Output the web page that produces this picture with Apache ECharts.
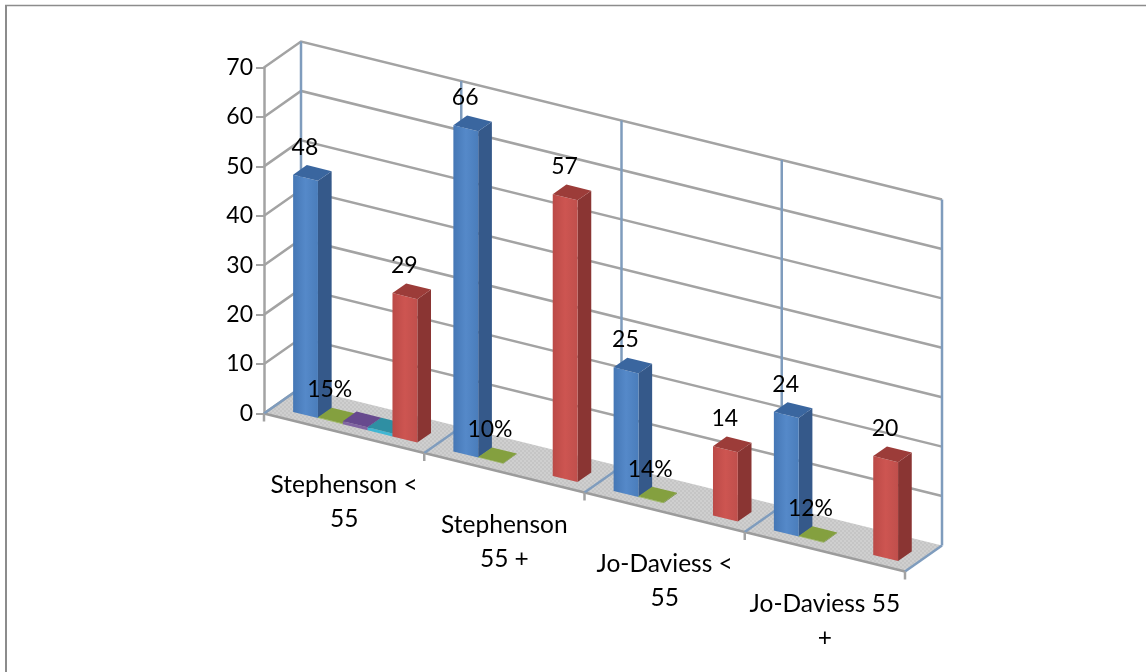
<!DOCTYPE html>
<html><head><meta charset="utf-8">
<style>html,body{margin:0;padding:0;background:#fff}#c{width:1146px;height:672px}</style>
<script src="https://cdn.jsdelivr.net/npm/echarts@6/dist/echarts.min.js"></script>
</head><body><div id="c"></div>
<script>
const categories = ['Stephenson <\n55', 'Stephenson\n55 +', 'Jo-Daviess <\n55', 'Jo-Daviess 55\n+'];
const blueValues = [48, 66, 25, 24];
const greenValues = [0.15, 0.10, 0.14, 0.12];
const purpleValues = [0.6, null, null, null];
const tealValues = [0.6, null, null, null];
const redValues = [29, 57, 14, 20];
const yTicks = [0, 10, 20, 30, 40, 50, 60, 70];

const FONT = 'Lato';
const DEPTH_X = 37, DEPTH_Y = 26, SLOPE = 39.5 / 160.25;
const BAR_START = 0.124, BAR_W = 0.155, BAR_D0 = 0.25, BAR_D1 = 0.62;
const GREY = '#a3a3a3', WALL = '#7f9cbd';

const floorTile = document.createElement('canvas');
floorTile.width = floorTile.height = 4;
(function () {
  const g = floorTile.getContext('2d');
  g.fillStyle = '#c5c5c5'; g.fillRect(0, 0, 4, 4);
  g.fillStyle = '#cfcfcf'; g.fillRect(0, 0, 2, 2); g.fillRect(2, 2, 2, 2);
})();

function proj(api, u, d, v) {
  const o = api.coord([0, 0]), p = api.coord([u, v]);
  return [p[0] + DEPTH_X * d, p[1] + SLOPE * (p[0] - o[0]) - DEPTH_Y * d];
}
function grad(a, b, c) {
  return new echarts.graphic.LinearGradient(0, 0, 1, 0, [
    {offset: 0, color: a}, {offset: 0.5, color: b}, {offset: 1, color: c}]);
}
function barSeries(values, slot, col, labelMode) {
  return {
    type: 'custom', coordinateSystem: 'cartesian2d', z: 5 + slot,
    data: values.map((v, i) => [i, v]),
    encode: {x: 0, y: 1},
    renderItem(params, api) {
      const v = api.value(1);
      if (v == null || isNaN(v)) return null;
      const u0 = api.value(0) + BAR_START + slot * BAR_W, u1 = u0 + BAR_W;
      const P = (u, d, h) => proj(api, u, d, h);
      const fl = P(u0, BAR_D0, 0), fr = P(u1, BAR_D0, 0), tl = P(u0, BAR_D0, v), tr = P(u1, BAR_D0, v);
      const br0 = P(u1, BAR_D1, 0), br = P(u1, BAR_D1, v), bl = P(u0, BAR_D1, v);
      const poly = (pts, fill) => ({type: 'polygon', shape: {points: pts}, style: {fill, stroke: null}});
      const cx = (tl[0] + br[0]) / 2, cy = (tl[1] + br[1]) / 2;
      const kids = [
        poly([fr, br0, br, tr], col.side),
        poly([fl, fr, tr, tl], col.front),
        poly([tl, tr, br, bl], col.top)
      ];
      if (labelMode) kids.push({type: 'text', z2: 100, style: {
        x: cx - 7.5, y: cy - 25.5, text: labelMode === 'pct' ? Math.round(v * 100) + '%' : String(v),
        font: '23px ' + FONT, fill: '#000', align: 'center', verticalAlign: 'middle'}});
      return {type: 'group', children: kids};
    }
  };
}
const blueCol = {front: grad('#4577b5', '#5589c9', '#4a7dbb'), side: '#35598a', top: '#3a669f'};
const greenCol = {front: '#9bbb59', side: '#6e8a38', top: '#84a03f'};
const purpleCol = {front: '#8064a2', side: '#57407a', top: '#674a8e'};
const tealCol = {front: '#3fb6d3', side: '#2a7f95', top: '#2f8fa3'};
const redCol = {front: grad('#bb4a47', '#cd5551', '#c04f4c'), side: '#8a3533', top: '#9c3c39'};

const option = {
  animation: false,
  backgroundColor: '#fff',
  graphic: [
    {type: 'line', silent: true, shape: {x1: 5, y1: 5.5, x2: 1146, y2: 5.5}, style: {stroke: '#8c8c8c', lineWidth: 1.5}},
    {type: 'line', silent: true, shape: {x1: 6, y1: 5, x2: 6, y2: 672}, style: {stroke: '#8c8c8c', lineWidth: 2}}
  ],
  grid: {left: 264, top: 67.5, width: 641, height: 346},
  xAxis: {type: 'value', min: 0, max: 4, show: false},
  yAxis: {type: 'value', min: 0, max: 70, interval: 10,
    splitLine: {show: false},
    axisLine: {show: true, lineStyle: {color: GREY, width: 2.5}},
    axisTick: {show: true, length: 8, lineStyle: {color: GREY, width: 2}},
    axisLabel: {fontFamily: FONT, fontSize: 23, color: '#000', margin: 11, padding: [3, 0, 0, 0]}},
  series: [
    { // floor
      type: 'custom', z: 1, data: [[0, 0]], encode: {x: 0, y: 1},
      renderItem(params, api) {
        const P = (u, d) => proj(api, u, d, 0);
        return {type: 'group', children: [
          {type: 'polygon', shape: {points: [P(0, 0), P(4, 0), P(4, 1), P(0, 1)]},
           style: {fill: {image: floorTile, repeat: 'repeat'}, stroke: null}},
          {type: 'polyline', shape: {points: [P(0, 0), P(4, 0)]}, style: {stroke: '#9c9c9c', lineWidth: 2.5, fill: null}},
          {type: 'polyline', shape: {points: [P(0, 0), P(0, 1)]}, style: {stroke: GREY, lineWidth: 2.5, fill: null}}
        ]};
      }
    },
    { // horizontal grid lines on the side and back walls
      type: 'custom', z: 2, data: yTicks.map(t => [0, t]), encode: {x: 0, y: 1},
      renderItem(params, api) {
        const v = api.value(1);
        if (v === 0) return null;
        return {type: 'polyline', shape: {points: [proj(api, 0, 0, v), proj(api, 0, 1, v), proj(api, 4, 1, v)]},
          style: {stroke: GREY, lineWidth: 2.5, fill: null}};
      }
    },
    { // vertical category boundaries, floor dividers and ticks
      type: 'custom', z: 3, data: categories.map((c, i) => [i, 0]).concat([[4, 0]]), encode: {x: 0, y: 1},
      renderItem(params, api) {
        const u = api.value(0);
        const line = (pts, stroke) => ({type: 'polyline', shape: {points: pts}, style: {stroke, lineWidth: 2.5, fill: null}});
        const f = proj(api, u, 0, 0);
        return {type: 'group', children: [
          line([proj(api, u, 1, 0), proj(api, u, 1, 70)], WALL),
          line([f, proj(api, u, 1, 0)], WALL),
          line([f, [f[0], f[1] + 8]], GREY)
        ]};
      }
    },
    barSeries(blueValues, 0, blueCol, 'num'),
    barSeries(greenValues, 1, greenCol, 'pct'),
    barSeries(purpleValues, 2, purpleCol, null),
    barSeries(tealValues, 3, tealCol, null),
    barSeries(redValues, 4, redCol, 'num'),
    { // category labels
      type: 'custom', z: 20, data: categories.map((c, i) => [i, 0]), encode: {x: 0, y: 1},
      renderItem(params, api) {
        const i = api.value(0), p = proj(api, i + 0.5, 0, 0);
        return {type: 'text', style: {x: p[0], y: p[1] + 69, text: categories[i],
          font: '24.5px ' + FONT, lineHeight: 34, fill: '#000', align: 'center', verticalAlign: 'middle'}};
      }
    }
  ]
};
const chart = echarts.init(document.getElementById('c'), null, {renderer: 'canvas'});
chart.setOption(option);
</script></body></html>
